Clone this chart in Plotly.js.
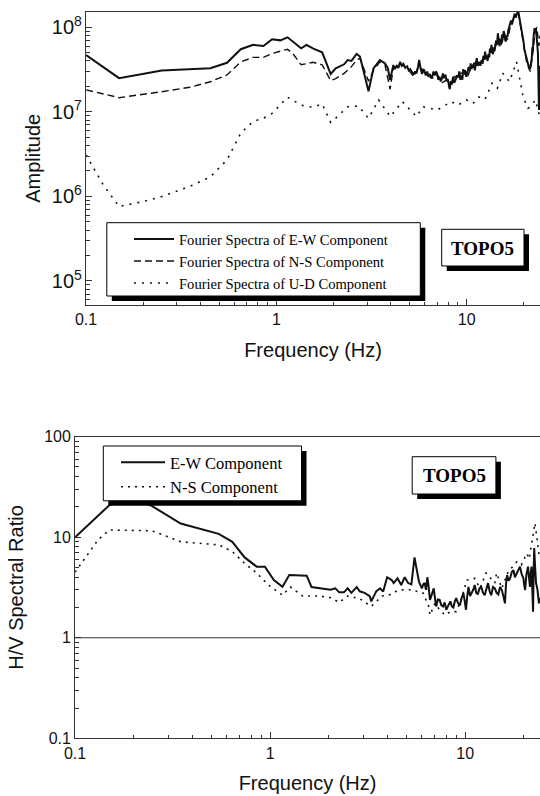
<!DOCTYPE html>
<html>
<head>
<meta charset="utf-8">
<script src="https://cdn.plot.ly/plotly-3.0.1.min.js"></script>
<style>
html,body{margin:0;padding:0;background:#fff;}
#chart{width:540px;height:796px;}
</style>
</head>
<body>
<div id="chart"></div>
<script>
// ---------- Top chart: Fourier spectra ----------
const freqTopEW = [0.1,0.149,0.25,0.35,0.45,0.55,0.65,0.755,0.855,0.95,1.05,1.145,1.35,1.44,1.565,1.74,1.93,2.05,2.27,2.37,2.48,2.64,2.75,3.05,3.24,3.5,3.72,3.85,3.96,
  4.12,4.2,4.3,4.38,4.47,4.56,4.65,4.76,4.87,4.96,5.05,5.16,5.27,5.36,5.45,5.55,5.63,5.72,5.83,5.92,6.0,6.1,6.2,6.3,6.4,6.5,6.6,6.7,6.8,6.9,6.98,
  7.1,7.2,7.3,7.4,7.5,7.6,7.74,7.85,7.95,8.05,8.15,8.25,8.35,8.5,8.6,8.75,8.9,9.04,9.15,9.25,9.4,9.5,9.6,9.7,9.8,9.95,
  10.1,10.25,10.4,10.5,10.6,10.7,10.8,10.95,11.05,11.2,11.3,11.45,11.65,11.8,12.0,12.15,12.25,12.4,12.5,12.65,12.75,12.9,13.0,13.15,13.25,13.4,13.5,13.65,13.75,13.9,
  14.0,14.15,14.3,14.45,14.6,14.75,14.9,15.05,15.2,15.35,15.5,15.65,15.8,15.95,16.1,16.25,16.4,16.55,16.75,16.9,17.1,17.3,17.5,17.7,17.9,18.1,18.3,18.5,18.7,18.95,
  19.2,19.5,19.9,20.1,20.3,20.5,20.7,20.9,21.1,21.35,21.6,21.8,22.0,22.15,22.3,22.45,22.6,22.75,22.9,23.1,23.4,23.7,24.0,24.15,24.3];
const ampTopEW = [4.7e7,2.5e7,3.08e7,3.2e7,3.27e7,3.8e7,5.5e7,6.2e7,6.0e7,7.2e7,7.0e7,7.6e7,5.65e7,6.2e7,5.6e7,5.06e7,2.8e7,3.27e7,3.65e7,4.1e7,4.0e7,4.84e7,4.5e7,1.75e7,3.27e7,4.1e7,3.75e7,3.3e7,2.38e7,
  3.58e7,3.2e7,3.5e7,3.3e7,3.9e7,3.5e7,3.7e7,3.3e7,3.45e7,3.1e7,3.2e7,2.9e7,2.75e7,3.0e7,2.85e7,3.4e7,4.1e7,3.3e7,2.8e7,3.2e7,3.05e7,2.7e7,3.0e7,2.6e7,2.8e7,2.5e7,2.65e7,3.0e7,2.7e7,3.0e7,2.85e7,
  2.4e7,2.6e7,2.3e7,2.45e7,2.85e7,2.5e7,2.75e7,2.3e7,2.45e7,2.0e7,1.85e7,2.3e7,2.1e7,2.6e7,2.2e7,2.4e7,2.7e7,2.55e7,3.0e7,2.4e7,2.7e7,2.4e7,3.2e7,2.8e7,3.1e7,2.6e7,
  2.9e7,3.4e7,3.1e7,3.75e7,3.2e7,3.6e7,3.3e7,3.8e7,3.1e7,3.7e7,4.3e7,3.5e7,3.9e7,3.5e7,4.1e7,3.7e7,4.6e7,4.1e7,5.15e7,4.2e7,4.5e7,4.0e7,4.8e7,4.4e7,5.6e7,5.0e7,6.2e7,5.2e7,4.8e7,5.8e7,
  5.2e7,6.2e7,7.0e7,6.2e7,8.5e7,6.8e7,6.0e7,7.3e7,6.5e7,8.2e7,7.4e7,9.0e7,8.4e7,7.0e7,6.8e7,8.0e7,7.7e7,9.2e7,1.0e8,1.1e8,1.2e8,1.08e8,1.2e8,1.32e8,1.45e8,1.3e8,1.42e8,1.5e8,1.53e8,1.3e8,
  1.1e8,8.5e7,6.8e7,5.5e7,5.0e7,4.4e7,4.1e7,3.7e7,3.6e7,3.2e7,3.3e7,3.8e7,4.3e7,5.8e7,5.2e7,7.5e7,8.2e7,9.8e7,8.8e7,9.7e7,7.1e7,5.0e7,1.05e7,2.5e7,3.5e7];

const freqTopNS = [0.1,0.149,0.25,0.35,0.45,0.55,0.65,0.755,0.855,0.95,1.145,1.22,1.35,1.56,1.74,1.93,2.05,2.27,2.45,2.64,2.75,3.05,3.24,3.5,3.72,3.96,4.12,4.47,4.87,5.27,5.63,6.0,6.6,7.0,7.4,7.9,8.15,8.5,9.0,9.6,10.1,10.6,11.3,12.0,12.5,13.0,13.5,14.0,14.6,15.2,15.8,16.4,17.1,17.9,18.7,19.2,19.9,20.7,21.6,22.3,22.9,23.4,24.0,24.3];
const ampTopNS = [1.82e7,1.47e7,1.73e7,1.95e7,2.27e7,2.73e7,3.9e7,4.4e7,4.4e7,4.9e7,5.5e7,4.9e7,3.6e7,3.85e7,3.6e7,2.34e7,2.47e7,2.85e7,3.3e7,4.1e7,4.3e7,2.3e7,3.1e7,3.9e7,3.6e7,1.85e7,3.3e7,3.7e7,3.3e7,2.6e7,3.5e7,2.9e7,2.5e7,2.8e7,2.2e7,2.4e7,1.9e7,2.5e7,2.8e7,2.9e7,2.6e7,3.4e7,4.0e7,3.9e7,4.8e7,4.3e7,5.8e7,5.2e7,7.8e7,6.2e7,8.2e7,7.2e7,1.1e8,1.35e8,1.45e8,1.05e8,6.5e7,3.8e7,3.0e7,5.0e7,9.0e7,1.0e8,6.0e7,8.0e7];

const freqTopUD = [0.1,0.123,0.149,0.2,0.25,0.35,0.45,0.55,0.65,0.755,0.855,0.95,1.145,1.35,1.56,1.74,1.93,2.05,2.37,2.7,3.05,3.45,3.97,4.6,5.45,5.9,7.0,8.3,9.0,10.0,10.8,11.6,12.5,13.6,14.5,15.5,16.8,18.3,19.8,21.0,21.6,23.0,24.3];
const ampTopUD = [3.1e6,1.37e6,7.6e5,8.7e5,9.95e5,1.31e6,1.7e6,2.7e6,5.6e6,7.7e6,8.4e6,9.6e6,1.49e7,1.2e7,1.13e7,1.24e7,7.5e6,8.4e6,1.15e7,1.17e7,8.4e6,1.38e7,8.8e6,1.32e7,8.8e6,1.15e7,1.05e7,1.32e7,1.2e7,1.38e7,1.25e7,1.5e7,1.4e7,2.18e7,1.9e7,2.86e7,2.28e7,3.9e7,1.5e7,1.1e7,1.15e7,1.38e7,8.5e6];

// ---------- Bottom chart: H/V spectral ratio ----------
const freqHVEW = [0.1,0.15,0.2,0.247,0.348,0.435,0.545,0.64,0.74,0.853,0.94,1.045,1.157,1.254,1.54,1.63,1.8,2.04,2.16,2.26,2.39,2.5,2.61,2.78,2.88,3.05,3.24,3.3,3.5,3.66,3.8,3.98,4.2,4.3,4.5,4.7,4.9,5.1,5.3,5.5,5.8,
  6.0,6.1,6.2,6.3,6.4,6.5,6.6,6.75,6.9,7.0,7.1,7.25,7.4,7.55,7.7,7.85,8.0,8.2,8.4,8.55,8.7,8.85,9.0,9.2,9.4,9.6,9.8,9.95,10.1,10.25,10.4,10.6,10.8,11.0,11.2,11.4,11.6,11.85,
  12.1,12.35,12.6,12.85,13.1,13.35,13.6,13.9,14.2,14.5,14.8,15.1,15.4,15.7,16.0,16.2,16.4,16.7,17.0,17.35,17.7,18.0,18.4,18.75,19.1,19.5,19.9,20.1,20.3,20.6,21.0,21.25,21.5,21.7,21.9,
  22.1,22.3,22.45,22.6,22.85,23.1,23.5,23.9,24.2];
const ratioHVEW = [10,20.9,24,20.5,13.7,12.2,10.8,9.0,6.3,5.1,5.1,3.76,3.22,4.2,4.15,3.2,3.1,3.0,3.1,2.83,2.83,3.1,2.8,3.2,2.9,2.8,2.6,2.3,2.9,3.1,2.88,4.0,3.75,3.5,3.9,3.35,4.0,3.5,3.4,6.3,3.6,
  3.1,3.4,3.5,3.0,4.0,3.2,2.38,2.7,3.1,2.5,2.05,2.4,2.38,2.1,2.05,2.25,1.9,2.1,2.3,2.05,2.0,2.3,2.48,2.2,2.1,2.5,2.78,2.3,1.9,2.6,3.2,2.6,2.78,3.0,3.35,2.8,2.7,3.1,
  3.2,2.8,2.65,3.0,3.5,2.9,2.65,3.2,3.1,2.8,2.7,3.2,3.0,2.6,2.2,3.4,4.2,3.7,3.9,4.5,4.7,4.0,4.4,4.9,5.1,4.3,3.9,3.3,2.98,4.2,5.1,4.0,3.2,4.4,5.1,
  3.0,1.82,4.5,7.8,5.0,3.5,3.0,2.2,2.5];

const freqHVNS = [0.1,0.114,0.131,0.15,0.2,0.247,0.3,0.348,0.435,0.545,0.64,0.74,0.853,0.98,1.157,1.27,1.47,1.8,2.04,2.26,2.5,2.88,3.3,3.75,4.2,4.4,4.8,5.3,6.1,6.5,6.6,7.0,7.4,7.9,8.4,9.0,9.6,10.2,11.2,11.9,12.8,14.2,14.5,15.4,16.6,18.4,19.4,20.7,21.3,22.3,22.8,23.4,24.0];
const ratioHVNS = [4.5,6.4,9.4,11.8,11.8,11.6,10.1,9.0,8.7,8.4,7.2,5.5,4.4,3.35,2.65,3.2,2.6,2.6,2.5,2.25,2.6,2.45,2.05,2.6,2.7,2.88,3.0,3.0,2.78,2.05,1.68,2.2,1.9,1.68,1.82,1.82,2.48,3.75,3.9,3.1,4.4,3.5,4.4,3.1,4.5,5.7,5.3,6.9,6.1,11.4,13.8,9.5,6.3];

const topNames = ['Fourier Spectra of E-W Component','Fourier Spectra of N-S Component','Fourier Spectra of U-D Component'];
const hvNames = ['E-W Component','N-S Component'];
const stationLabel = 'TOPO5';

// ---------- helpers (pixel -> paper) ----------
const W = 540, H = 796;
const px = x => x / W;
const py = y => 1 - y / H;
const ink = '#111';

const traces = [
  {x: freqTopEW, y: ampTopEW, name: topNames[0], xaxis:'x', yaxis:'y', mode:'lines', legend:'legend',
   line:{color:ink, width:2}},
  {x: freqTopNS, y: ampTopNS, name: topNames[1], xaxis:'x', yaxis:'y', mode:'lines', legend:'legend',
   line:{color:ink, width:1.4, dash:'7px,4px'}},
  {x: freqTopUD, y: ampTopUD, name: topNames[2], xaxis:'x', yaxis:'y', mode:'lines', legend:'legend',
   line:{color:ink, width:1.6, dash:'2px,6px'}},
  {x: freqHVEW, y: ratioHVEW, name: hvNames[0], xaxis:'x2', yaxis:'y2', mode:'lines', legend:'legend2',
   line:{color:ink, width:2}},
  {x: freqHVNS, y: ratioHVNS, name: hvNames[1], xaxis:'x2', yaxis:'y2', mode:'lines', legend:'legend2',
   line:{color:ink, width:1.6, dash:'2px,5px'}}
];

const tickFont = {family:'Liberation Sans, Arial, sans-serif', size:16, color:ink};
const titleFont = {family:'Liberation Sans, Arial, sans-serif', size:20, color:ink};
function axisBase(extra){
  return Object.assign({
    type:'log', showline:true, linecolor:'#333', linewidth:1, showgrid:false, zeroline:false,
    ticks:'inside', ticklen:6, tickwidth:1, tickcolor:'#333', dtick:1,
    minor:{ticks:'inside', ticklen:3.5, tickwidth:1, tickcolor:'#333', showgrid:false},
    tickfont:tickFont, fixedrange:true
  }, extra);
}

const shapes = [];
function boxWithShadow(x0,y0,x1,y1,off){
  shapes.push({type:'rect', xref:'paper', yref:'paper', layer:'above',
    x0:px(x0+off), x1:px(x1+off), y0:py(y1+off), y1:py(y0+off), fillcolor:'#000', line:{width:0}});
  shapes.push({type:'rect', xref:'paper', yref:'paper', layer:'above',
    x0:px(x0), x1:px(x1), y0:py(y1), y1:py(y0), fillcolor:'#fff', line:{color:'#000', width:1}});
}
// unity line on H/V plot
shapes.push({type:'line', xref:'x2 domain', yref:'y2', x0:0, x1:1, y0:1, y1:1, layer:'below',
  line:{color:'#333', width:1}});
boxWithShadow(106.8,222.7,420.3,296,5);
boxWithShadow(441.7,229.3,524,266,5);
boxWithShadow(103.3,446,301.5,500.8,5);
boxWithShadow(412.2,456.7,495.9,494,5);

const labelFont = {family:'Liberation Serif, Times New Roman, serif', size:19, color:'#000', weight:'bold'};
const annotations = [
  {xref:'paper', yref:'paper', x:px(482.8), y:py(248), text:'<b>'+stationLabel+'</b>', showarrow:false,
   xanchor:'center', yanchor:'middle', font:labelFont},
  {xref:'paper', yref:'paper', x:px(454), y:py(475.5), text:'<b>'+stationLabel+'</b>', showarrow:false,
   xanchor:'center', yanchor:'middle', font:labelFont}
];

const layout = {
  width:W, height:H, margin:{l:0, r:0, t:0, b:0},
  paper_bgcolor:'#fff', plot_bgcolor:'rgba(0,0,0,0)',
  font:{family:'Liberation Sans, Arial, sans-serif', color:ink},
  showlegend:true,
  xaxis: axisBase({domain:[px(86.1),1], range:[-1, Math.log10(24.3)], anchor:'y', mirror:true,
    title:{text:'Frequency (Hz)', font:titleFont, standoff:15}}),
  yaxis: axisBase({domain:[py(305), py(11.7)], range:[4.716, 8.184], anchor:'x', exponentformat:'power',
    title:{text:'Amplitude', font:titleFont, standoff:5}}),
  xaxis2: axisBase({domain:[px(75.1),1], range:[-1, Math.log10(24.2)], anchor:'y2', mirror:true,
    title:{text:'Frequency (Hz)', font:titleFont, standoff:15}}),
  yaxis2: axisBase({domain:[py(738.3), py(436.7)], range:[-1, 2], anchor:'x2',
    title:{text:'H/V Spectral Ratio', font:titleFont, standoff:14.5}}),
  legend:{x:px(129), y:py(223), xanchor:'left', yanchor:'top', bgcolor:'rgba(0,0,0,0)', borderwidth:0,
    font:{family:'Liberation Serif, Times New Roman, serif', size:14.6, color:'#000'}, itemwidth:40,
    tracegroupgap:0, itemclick:false, itemdoubleclick:false},
  legend2:{x:px(116), y:py(445), xanchor:'left', yanchor:'top', bgcolor:'rgba(0,0,0,0)', borderwidth:0,
    font:{family:'Liberation Serif, Times New Roman, serif', size:16.5, color:'#000'}, itemwidth:44,
    tracegroupgap:0, itemclick:false, itemdoubleclick:false},
  shapes:shapes,
  annotations:annotations
};

Plotly.newPlot('chart', traces, layout, {displayModeBar:false, staticPlot:true});
</script>
</body>
</html>
